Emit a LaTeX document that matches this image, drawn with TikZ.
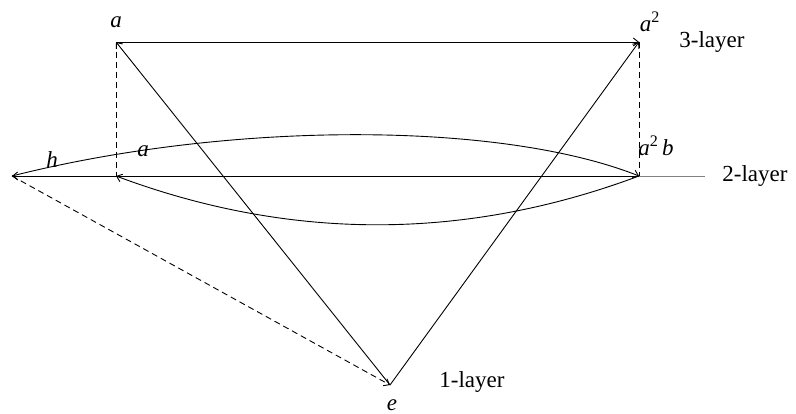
\documentclass[tikz,border=0pt]{standalone}
\usepackage{fontspec}
\setmainfont{Liberation Serif}
\usetikzlibrary{arrows.meta}
\newcommand{\vr}[1]{\textit{#1}}
\begin{document}
\begin{tikzpicture}[x=1pt,y=1pt,
  conn/.style={line width=0.9pt,-{Straight Barb[length=5pt,width=8pt]}},
  dsh/.style={line width=0.9pt,dash pattern=on 6pt off 4pt},
  lbl/.style={inner sep=0pt,font=\fontsize{23}{27}\selectfont}]
\useasboundingbox (0,0) rectangle (796,414);
\coordinate (A) at (116,372);
\coordinate (A2) at (639,372);
\coordinate (A2B) at (639,238);
\coordinate (Am) at (116,238);
\coordinate (H) at (12,238);
\coordinate (E) at (390,29);
\coordinate (axend) at (705,238);
% axis extension
\draw[gray,line width=0.9pt] (A2B) -- (axend);
% edges
\draw[conn] (A) -- (A2);
\draw[conn] (E) -- (A);
\draw[conn] (E) -- (A2);
\draw[dsh] (A) -- (Am);
\draw[dsh] (A2) -- (A2B);
\draw[conn] (A2B) -- (H);
\draw[conn] (H) .. controls (230,293) and (500,293) .. (A2B);
\draw[conn] (A2B) .. controls (465,173) and (290,173) .. (Am);
\draw[dsh,-{Straight Barb[length=5pt,width=8pt]}] (H) -- (E);
% labels
\node[lbl] (la) at (116,392) {\vr{a}};
\node[lbl] (la2) at (650,392) {\vr{a}\textsuperscript{2}};
\node[lbl] (l3) at (712,372) {3-layer};
\node[lbl] (la2b) at (656,268) {\vr{a}\textsuperscript{2}\,\vr{b}};
\node[lbl] (l2) at (755,238) {2-layer};
\node[lbl] (lh) at (52,254) {\vr{h}};
\node[lbl] (lam) at (143,263) {\vr{a}};
\node[lbl] (le) at (392,9) {\vr{e}};
\node[lbl] (l1) at (472,32) {1-layer};
\end{tikzpicture}
\end{document}
